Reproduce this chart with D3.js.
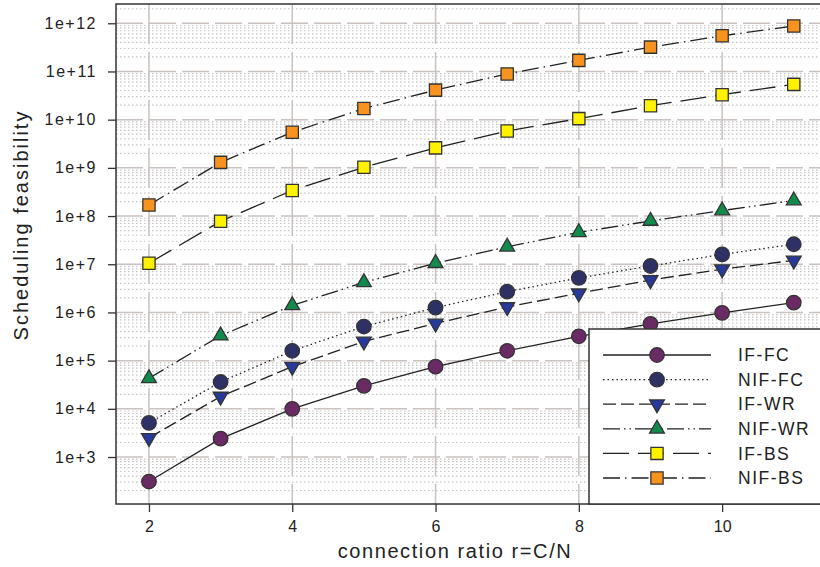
<!DOCTYPE html>
<html>
<head>
<meta charset="utf-8">
<script src="https://cdn.jsdelivr.net/npm/d3@7"></script>
<style>
  body { margin: 0; background: #fff; }
  svg { display: block; font-family: "Liberation Sans", Arial, sans-serif; }
</style>
</head>
<body>
<div id="chart"></div>
<script>
// data
const ratios = [2, 3, 4, 5, 6, 7, 8, 9, 10, 11];
const seriesNames = ["IF-FC", "NIF-FC", "IF-WR", "NIF-WR", "IF-BS", "NIF-BS"];
const ifFC   = [3.1e2, 2.4e3, 1.0e4, 3.0e4, 7.5e4, 1.6e5, 3.2e5, 5.8e5, 9.8e5, 1.6e6];
const nifFC  = [5.1e3, 3.6e4, 1.6e5, 5.1e5, 1.26e6, 2.7e6, 5.2e6, 9.2e6, 1.6e7, 2.6e7];
const ifWR   = [2.5e3, 1.8e4, 7.5e4, 2.5e5, 5.9e5, 1.3e6, 2.5e6, 4.7e6, 7.9e6, 1.2e7];
const nifWR  = [4.3e4, 3.3e5, 1.4e6, 4.2e6, 1.05e7, 2.3e7, 4.6e7, 7.9e7, 1.3e8, 2.1e8];
const ifBS   = [1.05e7, 7.8e7, 3.4e8, 1.03e9, 2.6e9, 5.8e9, 1.05e10, 1.95e10, 3.3e10, 5.4e10];
const nifBS  = [1.7e8, 1.3e9, 5.5e9, 1.7e10, 4.1e10, 8.9e10, 1.7e11, 3.2e11, 5.5e11, 8.8e11];
const xTicks = [2, 4, 6, 8, 10];
const yTicks = [1e3, 1e4, 1e5, 1e6, 1e7, 1e8, 1e9, 1e10, 1e11, 1e12];
const yTickLabels = ["1e+3", "1e+4", "1e+5", "1e+6", "1e+7", "1e+8", "1e+9", "1e+10", "1e+11", "1e+12"];

// dimensions
const width = 820, height = 567;
const margin = { top: 4, right: -1, bottom: 63, left: 116 };

const svg = d3.select("#chart").append("svg")
    .attr("width", width)
    .attr("height", height);

// scales
const x = d3.scaleLinear()
    .domain([1.54, 11.38])
    .range([margin.left, width - margin.right]);
const y = d3.scaleLog()
    .domain([Math.pow(10, 2.025), Math.pow(10, 12.40)])
    .range([height - margin.bottom, margin.top]);

const styles = {
  "IF-FC":  { values: ifFC,  color: "#6a2a64", dash: null,                 shape: d3.symbolCircle,   size: 165 },
  "NIF-FC": { values: nifFC, color: "#2e3166", dash: "1.5,3",              shape: d3.symbolCircle,   size: 165 },
  "IF-WR":  { values: ifWR,  color: "#27399a", dash: "13,5",               shape: "down",            size: 95 },
  "NIF-WR": { values: nifWR, color: "#118a4c", dash: "17,4,1.5,4,1.5,4",   shape: d3.symbolTriangle, size: 95 },
  "IF-BS":  { values: ifBS,  color: "#fff200", dash: "26,9",               shape: d3.symbolSquare,   size: 150 },
  "NIF-BS": { values: nifBS, color: "#f7931e", dash: "17,5,1.5,5",         shape: d3.symbolSquare,   size: 150 }
};

const grid = svg.append("g");
const gridColor = "#c9c2bf";

// minor horizontal grid (dotted)
const minor = [];
for (let e = 2; e <= 12; e++) {
  for (let m = 2; m <= 9; m++) {
    const v = m * Math.pow(10, e);
    if (v > y.domain()[0] && v < y.domain()[1]) minor.push(v);
  }
}
grid.selectAll("line.minor")
  .data(minor)
  .join("line")
    .attr("x1", margin.left)
    .attr("x2", width)
    .attr("y1", d => y(d))
    .attr("y2", d => y(d))
    .attr("stroke", "#c4c4c4")
    .attr("stroke-width", 1.2)
    .attr("stroke-dasharray", "1.5,2.5");

// major horizontal grid (long dashes)
grid.selectAll("line.major")
  .data(yTicks)
  .join("line")
    .attr("x1", margin.left)
    .attr("x2", width)
    .attr("y1", d => y(d))
    .attr("y2", d => y(d))
    .attr("stroke", gridColor)
    .attr("stroke-width", 1.5)
    .attr("stroke-dasharray", "27,6");

// vertical grid
grid.selectAll("line.vgrid")
  .data(xTicks)
  .join("line")
    .attr("x1", d => x(d))
    .attr("x2", d => x(d))
    .attr("y1", margin.top)
    .attr("y2", height - margin.bottom)
    .attr("stroke", gridColor)
    .attr("stroke-width", 1.5)
    .attr("stroke-dasharray", "40,8");

// axes
const xAxis = svg.append("g")
    .attr("transform", `translate(0,${height - margin.bottom})`)
    .call(d3.axisBottom(x).tickValues(xTicks).tickSize(8).tickPadding(9).tickFormat(d3.format("d")));
xAxis.select(".domain").remove();
xAxis.selectAll("line").attr("stroke", "#333").attr("stroke-width", 1.3);
xAxis.selectAll("text").attr("font-size", 16).attr("fill", "#222")
    .attr("font-family", "Liberation Sans, Arial, sans-serif");

const yAxis = svg.append("g")
    .attr("transform", `translate(${margin.left},0)`)
    .call(d3.axisLeft(y).tickValues(yTicks).tickSize(8).tickPadding(11)
      .tickFormat((d, i) => yTickLabels[i]));
yAxis.select(".domain").remove();
yAxis.selectAll("line").attr("stroke", "#333").attr("stroke-width", 1.3);
yAxis.selectAll("text").attr("font-size", 16).attr("fill", "#222")
    .attr("letter-spacing", "1.5px")
    .attr("font-family", "Liberation Sans, Arial, sans-serif");

// frame
svg.append("rect")
    .attr("x", margin.left)
    .attr("y", margin.top)
    .attr("width", width - margin.right - margin.left)
    .attr("height", height - margin.bottom - margin.top)
    .attr("fill", "none")
    .attr("stroke", "#333")
    .attr("stroke-width", 1.5);

// symbol helper
function markerPath(shape, size) {
  if (shape === "down") {
    return d3.symbol(d3.symbolTriangle, size)();
  }
  return d3.symbol(shape, size)();
}
function markerTransform(shape, cx, cy) {
  return shape === "down" ? `translate(${cx},${cy}) rotate(180)` : `translate(${cx},${cy})`;
}

// lines and markers
const line = d3.line()
    .x((d, i) => x(ratios[i]))
    .y(d => y(d));

seriesNames.forEach(name => {
  const s = styles[name];
  const g = svg.append("g");
  g.append("path")
    .datum(s.values)
    .attr("d", line)
    .attr("fill", "none")
    .attr("stroke", "#222")
    .attr("stroke-width", 1.3)
    .attr("stroke-dasharray", s.dash);
  g.selectAll("path.mk")
    .data(s.values)
    .join("path")
      .attr("class", "mk")
      .attr("d", markerPath(s.shape, s.size))
      .attr("transform", (d, i) => markerTransform(s.shape, x(ratios[i]), y(d)))
      .attr("fill", s.color)
      .attr("stroke", "#333")
      .attr("stroke-width", 1.3);
});

// legend
const legend = svg.append("g").attr("transform", "translate(589,329)");
legend.append("rect")
    .attr("x", 0).attr("y", 0)
    .attr("width", 240).attr("height", 175)
    .attr("fill", "#fff")
    .attr("stroke", "#333")
    .attr("stroke-width", 1.5);

const rows = legend.selectAll("g.row")
  .data(seriesNames)
  .join("g")
    .attr("transform", (d, i) => `translate(0,${26 + i * 24.6})`);
rows.append("line")
    .attr("x1", 14).attr("x2", 122)
    .attr("y1", 0).attr("y2", 0)
    .attr("stroke", "#222")
    .attr("stroke-width", 1.3)
    .attr("stroke-dasharray", d => styles[d].dash);
rows.append("path")
    .attr("d", d => markerPath(styles[d].shape, styles[d].size))
    .attr("transform", d => markerTransform(styles[d].shape, 68, 0))
    .attr("fill", d => styles[d].color)
    .attr("stroke", "#333")
    .attr("stroke-width", 1.3);
rows.append("text")
    .attr("x", 149)
    .attr("dy", "0.35em")
    .attr("font-size", 17.5)
    .attr("letter-spacing", "1.5px")
    .attr("fill", "#222")
    .text(d => d);

// axis titles
svg.append("text")
    .attr("x", (margin.left + 794) / 2)
    .attr("y", 558)
    .attr("text-anchor", "middle")
    .attr("font-size", 20)
    .attr("letter-spacing", "1.6px")
    .attr("fill", "#222")
    .text("connection ratio r=C/N");

svg.append("text")
    .attr("transform", "translate(28,225) rotate(-90)")
    .attr("text-anchor", "middle")
    .attr("font-size", 20)
    .attr("letter-spacing", "2px")
    .attr("fill", "#222")
    .text("Scheduling feasibility");
</script>
</body>
</html>
